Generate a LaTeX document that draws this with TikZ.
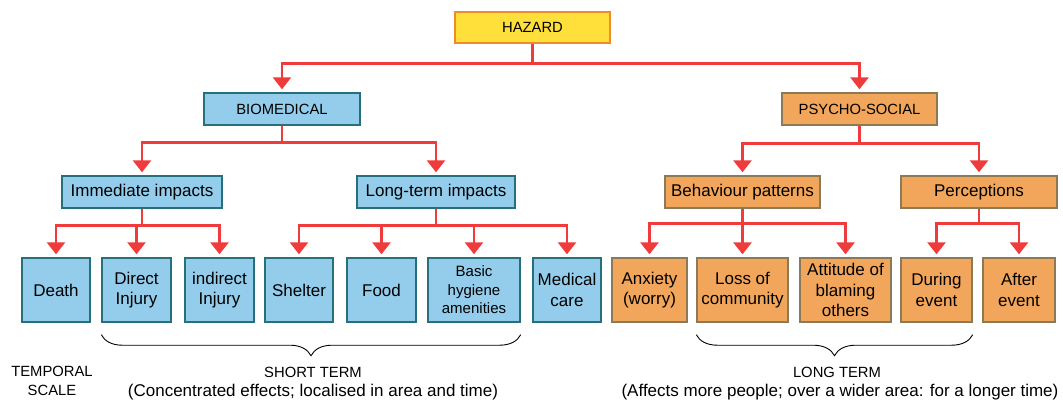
\documentclass[tikz,border=0pt]{standalone}
\usepackage{fontspec}
\setmainfont{Liberation Sans}
\usepackage{xcolor}
\usepackage{tikz}
\usetikzlibrary{arrows.meta,decorations.pathreplacing}

\definecolor{hazfill}{HTML}{FFE03A}
\definecolor{hazline}{HTML}{F08C28}
\definecolor{biofill}{HTML}{93CDEB}
\definecolor{bioline}{HTML}{26707E}
\definecolor{psyfill}{HTML}{F2A65C}
\definecolor{psyline}{HTML}{8C7955}
\definecolor{linkred}{HTML}{EF3B3B}

\begin{document}
\begin{tikzpicture}[x=1pt, y=-1pt,
    box/.style={draw, line width=1.4pt, inner sep=2pt, align=center, font=\fontsize{17}{20.5}\selectfont},
    top/.style={box, minimum height=32pt, font=\fontsize{14.8}{17}\selectfont},
    mid/.style={box, minimum height=32pt},
    leaf/.style={box, minimum width=69pt, minimum height=64pt},
    bio/.style={fill=biofill, draw=bioline},
    psy/.style={fill=psyfill, draw=psyline},
    link/.style={draw=linkred, line width=2.8pt, -{Triangle[width=18pt,length=12pt]}, shorten >=3pt},
    note/.style={font=\fontsize{14.8}{19}\selectfont, anchor=base, inner sep=0pt},
    wide/.style={font=\fontsize{17}{20}\selectfont, anchor=base, inner sep=0pt},
    bracket/.style={decorate, decoration={brace, mirror, amplitude=21pt}, line width=0.9pt},
    ]
    \useasboundingbox (0,0) rectangle (1063,405);

    \node[top, fill=hazfill, draw=hazline, minimum width=155pt, minimum height=31pt] (hazard) at (532.5,27.5) {HAZARD};
    \node[top, bio, minimum width=156pt] (biomed) at (282,109) {BIOMEDICAL};
    \node[top, psy, minimum width=155pt] (psycho) at (859.5,109) {PSYCHO-SOCIAL};

    \node[mid, bio, minimum width=160pt] (immed) at (142,192) {Immediate impacts};
    \node[mid, bio, minimum width=158pt] (longt) at (436,192) {Long-term impacts};
    \node[mid, psy, minimum width=155pt] (behav) at (742.5,192) {Behaviour patterns};
    \node[mid, psy, minimum width=156pt] (percep) at (979,192) {Perceptions};

    \node[leaf, bio, minimum width=68pt] (death) at (56,290) {Death};
    \node[leaf, bio] (dinj) at (136.5,290) {Direct\\Injury};
    \node[leaf, bio] (iinj) at (219.5,290) {indirect\\Injury};
    \node[leaf, bio, minimum width=68pt] (shelter) at (299,290) {Shelter};
    \node[leaf, bio] (food) at (381.5,290) {Food};
    \node[leaf, bio, minimum width=92pt, font=\fontsize{15}{18.5}\selectfont] (hyg) at (474,290) {Basic\\hygiene\\amenities};
    \node[leaf, bio, minimum width=68pt] (medic) at (567,290) {Medical\\care};
    \node[leaf, psy, minimum width=75pt] (anx) at (649.5,290) {Anxiety\\(worry)};
    \node[leaf, psy, minimum width=91pt] (loss) at (742.5,290) {Loss of\\community};
    \node[leaf, psy, minimum width=91pt] (blame) at (845.5,290) {Attitude of\\blaming\\others};
    \node[leaf, psy, minimum width=71pt] (during) at (936.5,290) {During\\event};
    \node[leaf, psy, minimum width=72pt] (after) at (1019,290) {After\\event};

    \foreach \n in {biomed,psycho}
        \draw[link] (hazard.south) -- ++(0,20) -| (\n.north);
    \foreach \n in {immed,longt}
        \draw[link] (biomed.south) -- ++(0,17) -| (\n.north);
    \foreach \n in {behav,percep}
        \draw[link] (psycho.south) -- ++(0,18) -| (\n.north);
    \foreach \n in {death,dinj,iinj}
        \draw[link] (immed.south) -- ++(0,17) -| (\n.north);
    \foreach \n in {shelter,food,hyg,medic}
        \draw[link] (longt.south) -- ++(0,17) -| (\n.north);
    \foreach \n in {anx,loss,blame}
        \draw[link] (behav.south) -- ++(0,15) -| (\n.north);
    \foreach \n in {during,after}
        \draw[link] (percep.south) -- ++(0,15) -| (\n.north);

    \draw[bracket] ([yshift=-12pt]dinj.south west) -- ([yshift=-12pt]hyg.south east);
    \draw[bracket] ([yshift=-12pt]loss.south west) -- ([yshift=-12pt]during.south east);

    \node[note, align=center, anchor=north] (temporal) at (52,366) {TEMPORAL\\SCALE};
    \node[note] (short) at (313,377) {SHORT TERM};
    \node[wide] (shortnote) at (313,396) {(Concentrated effects; localised in area and time)};
    \node[note] (long) at (837,377) {LONG TERM};
    \node[wide] (longnote) at (840,396) {(Affects more people; over a wider area: for a longer time)};
\end{tikzpicture}
\end{document}
